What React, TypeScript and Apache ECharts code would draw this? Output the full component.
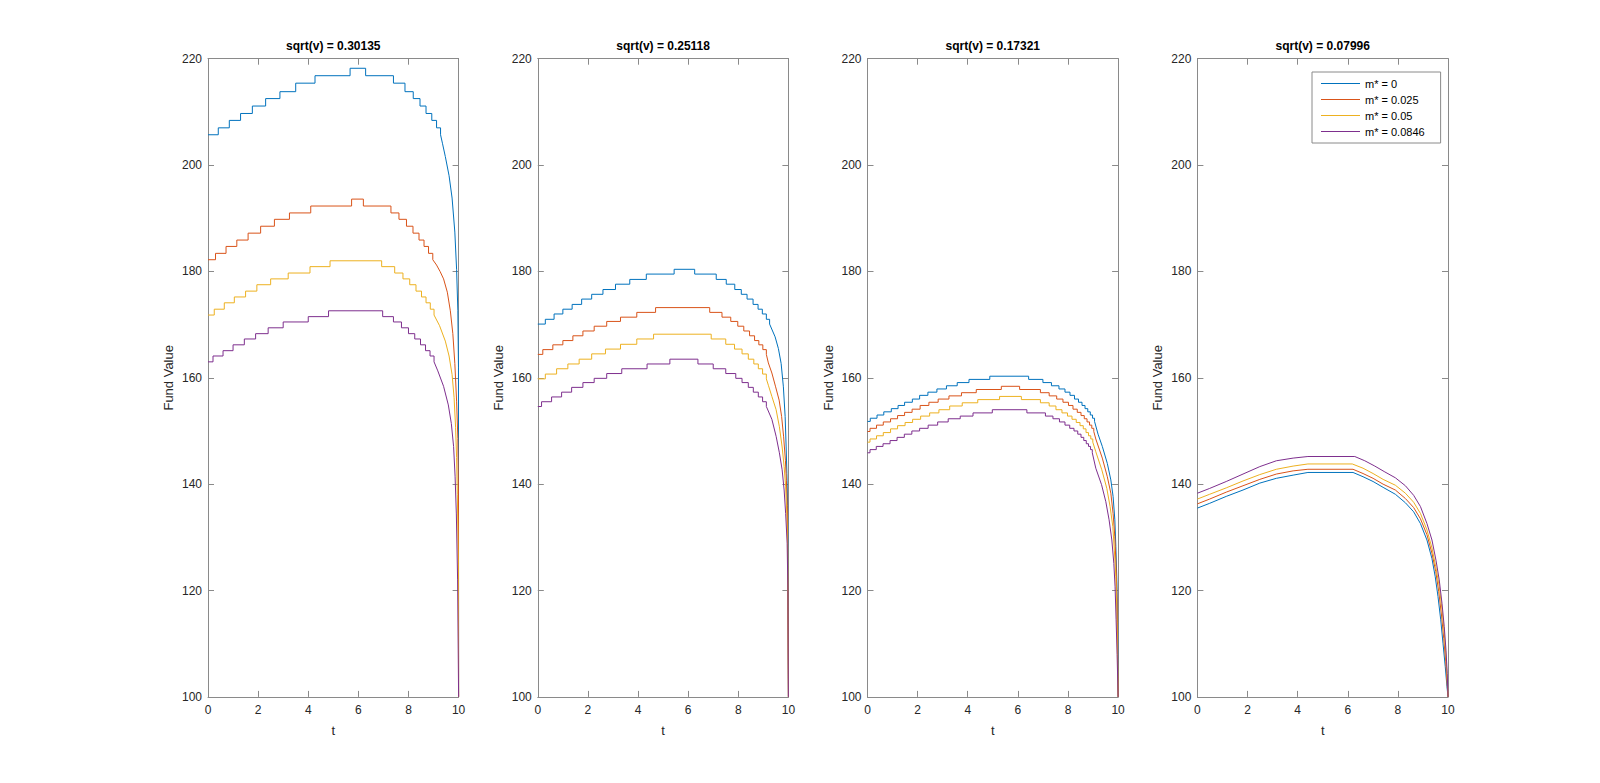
import React, { useEffect, useRef } from "react";
import * as echarts from "echarts";

type Pt = [number, number];

const TITLES = ["sqrt(v) = 0.30135", "sqrt(v) = 0.25118", "sqrt(v) = 0.17321", "sqrt(v) = 0.07996"];
const LEGEND_NAMES = ["m* = 0", "m* = 0.025", "m* = 0.05", "m* = 0.0846"];
const COLORS = ["#0072BD", "#D95319", "#EDB120", "#7E2F8E"];
const X_NAME = "t";
const Y_NAME = "Fund Value";

// ---- Panel 1 (sqrt(v) = 0.30135)
const P1_BLUE_STEPS: Pt[] = [[0,205.7],[0.41,207.0],[0.85,208.4],[1.30,209.7],[1.77,211.1],[2.30,212.5],[2.87,213.8],[3.50,215.4],[4.27,216.8],[5.67,218.2],[6.29,216.8],[7.40,215.4],[7.86,213.8],[8.19,212.5],[8.46,211.1],[8.70,209.7],[8.93,208.4],[9.12,207.0],[9.28,205.7]];
const P1_BLUE_TAIL: Pt[] = [[9.28,205.7],[9.36,204.0],[9.47,201.6],[9.62,198.0],[9.74,193.8],[9.85,187.4],[9.92,180.4],[9.97,172.6],[9.995,162],[10,100]];
const P1_ORANGE_STEPS: Pt[] = [[0,182.2],[0.3,183.4],[0.72,184.7],[1.15,185.9],[1.6,187.2],[2.1,188.5],[2.65,189.8],[3.25,191.0],[4.1,192.3],[5.73,193.6],[6.2,192.3],[7.3,191.0],[7.62,189.8],[7.92,188.5],[8.18,187.2],[8.42,185.9],[8.62,184.7],[8.8,183.4],[8.97,182.2]];
const P1_ORANGE_TAIL: Pt[] = [[8.97,182.2],[9.12,181.2],[9.26,180.0],[9.40,178.6],[9.55,176.1],[9.67,172.6],[9.77,168.3],[9.85,162.7],[9.92,155.6],[9.97,148.6],[9.995,138],[10,100]];
const P1_YELLOW_STEPS: Pt[] = [[0,171.8],[0.25,172.9],[0.65,174.1],[1.05,175.2],[1.5,176.3],[1.95,177.5],[2.5,178.6],[3.2,179.7],[4.07,180.9],[4.87,182.0],[6.93,180.9],[7.45,179.7],[7.78,178.6],[8.05,177.5],[8.3,176.3],[8.52,175.2],[8.7,174.1],[8.87,172.9],[9.02,171.8]];
const P1_YELLOW_TAIL: Pt[] = [[9.02,171.8],[9.24,169.8],[9.47,166.9],[9.62,164.1],[9.74,160.6],[9.82,156.3],[9.88,150.7],[9.92,145.0],[9.95,138.0],[9.99,125],[10,100]];
const P1_PURPLE_STEPS: Pt[] = [[0,163.0],[0.2,164.1],[0.6,165.1],[1.0,166.2],[1.45,167.3],[1.9,168.3],[2.4,169.4],[3.0,170.5],[4.0,171.5],[4.81,172.6],[6.97,171.5],[7.4,170.5],[7.72,169.4],[8.0,168.3],[8.25,167.3],[8.48,166.2],[8.68,165.1],[8.86,164.1],[9.02,163.0]];
const P1_PURPLE_TAIL: Pt[] = [[9.02,163.0],[9.17,161.3],[9.40,158.4],[9.59,154.9],[9.71,151.4],[9.80,147.1],[9.86,141.5],[9.91,134.4],[9.96,122],[10,100]];

// ---- Panel 2 (sqrt(v) = 0.25118)
const P2_BLUE_STEPS: Pt[] = [[0,170.1],[0.3,171.0],[0.65,172.0],[1.0,172.9],[1.37,173.8],[1.75,174.8],[2.15,175.7],[2.6,176.6],[3.1,177.6],[3.67,178.5],[4.33,179.5],[5.44,180.4],[6.26,179.5],[7.12,178.5],[7.52,177.6],[7.86,176.6],[8.12,175.7],[8.35,174.8],[8.59,173.8],[8.79,172.9],[8.96,172.0],[9.12,171.0],[9.25,170.1]];
const P2_BLUE_TAIL: Pt[] = [[9.25,170.1],[9.47,167.7],[9.60,165.5],[9.71,162.7],[9.80,158.3],[9.87,152.7],[9.91,147.0],[9.94,142.0],[9.97,136],[10,100]];
const P2_ORANGE_STEPS: Pt[] = [[0,164.4],[0.2,165.3],[0.6,166.2],[1.0,167.0],[1.4,167.9],[1.8,168.8],[2.25,169.7],[2.75,170.6],[3.3,171.4],[3.95,172.3],[4.70,173.2],[6.86,172.3],[7.35,171.4],[7.7,170.6],[7.98,169.7],[8.22,168.8],[8.45,167.9],[8.65,167.0],[8.82,166.2],[8.98,165.3],[9.12,164.4]];
const P2_ORANGE_TAIL: Pt[] = [[9.12,164.4],[9.2,162.8],[9.34,160.9],[9.49,158.3],[9.63,155.8],[9.73,152.7],[9.81,148.9],[9.88,144.5],[9.92,140.7],[9.96,135],[10,100]];
const P2_YELLOW_STEPS: Pt[] = [[0,159.8],[0.3,160.7],[0.75,161.7],[1.2,162.6],[1.65,163.5],[2.15,164.5],[2.7,165.4],[3.3,166.3],[3.95,167.3],[4.62,168.2],[6.92,167.3],[7.5,166.3],[7.85,165.4],[8.15,164.5],[8.4,163.5],[8.62,162.6],[8.8,161.7],[8.97,160.7],[9.12,159.8]];
const P2_YELLOW_TAIL: Pt[] = [[9.12,159.8],[9.2,158.6],[9.34,156.5],[9.51,154.0],[9.64,150.8],[9.75,147.0],[9.83,143.3],[9.89,139.5],[9.94,134],[9.97,128],[10,100]];
const P2_PURPLE_STEPS: Pt[] = [[0,154.6],[0.15,155.5],[0.55,156.4],[0.95,157.3],[1.35,158.2],[1.8,159.1],[2.25,159.9],[2.75,160.8],[3.35,161.7],[4.36,162.6],[5.27,163.5],[6.39,162.6],[7.0,161.7],[7.5,160.8],[7.9,159.9],[8.15,159.1],[8.4,158.2],[8.6,157.3],[8.8,156.4],[8.97,155.5],[9.12,154.6]];
const P2_PURPLE_TAIL: Pt[] = [[9.12,154.6],[9.34,152.2],[9.51,149.0],[9.64,145.9],[9.75,142.7],[9.83,138.9],[9.89,134.5],[9.95,128.9],[9.98,120],[10,100]];

// ---- Panel 3 (sqrt(v) = 0.17321)
const P3_BLUE_STEPS: Pt[] = [[0,151.8],[0.11,152.4],[0.38,153.0],[0.65,153.6],[0.95,154.2],[1.22,154.8],[1.48,155.4],[1.79,156.0],[2.08,156.7],[2.41,157.3],[2.77,157.9],[3.15,158.5],[3.58,159.1],[4.05,159.7],[4.88,160.3],[6.43,159.7],[7.0,159.1],[7.34,158.5],[7.64,157.9],[7.88,157.3],[8.08,156.7],[8.26,156.0],[8.42,155.4],[8.56,154.8],[8.68,154.2],[8.79,153.6],[8.89,153.0],[8.98,152.4],[9.06,151.8]];
const P3_BLUE_TAIL: Pt[] = [[9.06,151.8],[9.2,149.4],[9.37,147.1],[9.57,143.9],[9.71,140.8],[9.80,137.7],[9.87,133.3],[9.91,128.3],[9.95,122.0],[9.98,114],[10,100]];
const P3_ORANGE_STEPS: Pt[] = [[0,149.9],[0.1,150.5],[0.36,151.1],[0.63,151.7],[0.92,152.3],[1.2,152.9],[1.48,153.5],[1.78,154.1],[2.1,154.8],[2.45,155.4],[2.82,156.0],[3.25,156.6],[3.75,157.2],[4.34,157.8],[5.34,158.4],[6.07,157.8],[6.9,157.2],[7.25,156.6],[7.55,156.0],[7.8,155.4],[8.02,154.8],[8.2,154.1],[8.37,153.5],[8.52,152.9],[8.65,152.3],[8.76,151.7],[8.86,151.1],[8.95,150.5],[9.03,149.9]];
const P3_ORANGE_TAIL: Pt[] = [[9.03,149.9],[9.11,148.5],[9.37,144.9],[9.57,141.4],[9.71,138.3],[9.80,134.5],[9.87,130.1],[9.92,124.5],[9.96,118],[10,100]];
const P3_YELLOW_STEPS: Pt[] = [[0,147.9],[0.1,148.5],[0.36,149.1],[0.63,149.7],[0.92,150.4],[1.2,151.0],[1.5,151.6],[1.8,152.2],[2.12,152.8],[2.48,153.4],[2.85,154.0],[3.28,154.7],[3.78,155.3],[4.4,155.9],[5.27,156.5],[6.14,155.9],[6.9,155.3],[7.25,154.7],[7.52,154.0],[7.76,153.4],[7.98,152.8],[8.16,152.2],[8.33,151.6],[8.48,151.0],[8.61,150.4],[8.72,149.7],[8.82,149.1],[8.91,148.5],[8.99,147.9]];
const P3_YELLOW_TAIL: Pt[] = [[8.99,147.9],[9.11,146.1],[9.35,142.7],[9.55,139.2],[9.68,135.8],[9.79,132.0],[9.85,127.6],[9.91,122.6],[9.95,116],[10,100]];
const P3_PURPLE_STEPS: Pt[] = [[0,145.9],[0.1,146.5],[0.35,147.1],[0.62,147.6],[0.9,148.2],[1.18,148.8],[1.47,149.4],[1.77,150.0],[2.08,150.5],[2.42,151.1],[2.8,151.7],[3.22,152.3],[3.7,152.8],[4.21,153.4],[4.98,154.0],[6.36,153.4],[7.1,152.8],[7.4,152.3],[7.66,151.7],[7.88,151.1],[8.07,150.5],[8.24,150.0],[8.39,149.4],[8.52,148.8],[8.63,148.2],[8.73,147.6],[8.82,147.1],[8.9,146.5],[8.97,145.9]];
const P3_PURPLE_TAIL: Pt[] = [[8.97,145.9],[9.11,143.0],[9.34,139.9],[9.51,136.7],[9.64,133.3],[9.75,129.5],[9.83,125.1],[9.88,120.7],[9.92,114.5],[9.96,108],[10,100]];

// ---- Panel 4 (sqrt(v) = 0.07996): steps are ~1px, drawn as a line through read points
const P4_BLUE: Pt[] = [[0,135.5],[0.49,136.4],[1.15,137.7],[1.82,138.9],[2.49,140.2],[3.15,141.1],[3.82,141.7],[4.41,142.2],[6.21,142.2],[6.61,141.4],[7.01,140.5],[7.41,139.4],[7.9,138.1],[8.30,136.5],[8.63,134.8],[8.90,132.6],[9.16,129.5],[9.36,126.0],[9.49,122.6],[9.60,118.9],[9.71,114.5],[9.80,110.1],[9.89,105.7],[9.96,101.9],[10,100]];
const P4_ORANGE: Pt[] = [[0,136.3],[0.49,137.2],[1.15,138.5],[1.82,139.7],[2.49,140.9],[3.15,141.9],[3.82,142.5],[4.41,142.8],[6.21,142.8],[6.61,142.0],[7.01,141.1],[7.41,140.0],[7.9,138.9],[8.30,137.3],[8.63,135.6],[8.90,133.5],[9.16,130.5],[9.36,127.0],[9.51,123.6],[9.63,119.8],[9.74,115.4],[9.83,111.0],[9.91,106.6],[9.97,102.2],[10,100]];
const P4_YELLOW: Pt[] = [[0,137.2],[0.49,138.1],[1.15,139.3],[1.82,140.6],[2.49,141.8],[3.15,142.8],[3.82,143.4],[4.41,143.8],[6.18,143.8],[6.61,143.0],[7.01,142.0],[7.41,140.9],[7.9,139.8],[8.30,138.3],[8.63,136.6],[8.90,134.5],[9.16,131.4],[9.36,128.0],[9.51,124.5],[9.65,120.8],[9.76,116.4],[9.85,112.0],[9.92,107.6],[9.97,103.2],[10,100]];
const P4_PURPLE: Pt[] = [[0,138.3],[0.49,139.2],[1.15,140.5],[1.82,141.9],[2.49,143.3],[3.15,144.4],[3.82,144.9],[4.41,145.2],[6.28,145.2],[6.68,144.4],[7.08,143.4],[7.48,142.3],[7.9,141.2],[8.30,139.7],[8.63,137.9],[8.90,135.8],[9.16,132.6],[9.36,129.5],[9.52,125.7],[9.65,122.0],[9.76,117.6],[9.85,113.2],[9.92,108.8],[9.97,104.4],[10,100]];

const X_MIN = 0, X_MAX = 10, X_INTERVAL = 2;
const Y_MIN = 100, Y_MAX = 220, Y_INTERVAL = 20;

const PANELS: { steps: Pt[][]; lines: Pt[][] }[] = [
  { steps: [P1_BLUE_STEPS, P1_ORANGE_STEPS, P1_YELLOW_STEPS, P1_PURPLE_STEPS], lines: [P1_BLUE_TAIL, P1_ORANGE_TAIL, P1_YELLOW_TAIL, P1_PURPLE_TAIL] },
  { steps: [P2_BLUE_STEPS, P2_ORANGE_STEPS, P2_YELLOW_STEPS, P2_PURPLE_STEPS], lines: [P2_BLUE_TAIL, P2_ORANGE_TAIL, P2_YELLOW_TAIL, P2_PURPLE_TAIL] },
  { steps: [P3_BLUE_STEPS, P3_ORANGE_STEPS, P3_YELLOW_STEPS, P3_PURPLE_STEPS], lines: [P3_BLUE_TAIL, P3_ORANGE_TAIL, P3_YELLOW_TAIL, P3_PURPLE_TAIL] },
  { steps: [[], [], [], []], lines: [P4_BLUE, P4_ORANGE, P4_YELLOW, P4_PURPLE] },
];

const FONT = "'Liberation Sans', Arial, Helvetica, sans-serif";
const AXIS_COLOR = "#8a8a8a";
const TEXT_COLOR = "#262626";
const GRID_LEFTS = [208, 537.8, 867.5, 1197.4];
const GRID_TOP = 58.7;
const GRID_W = 250.6;
const GRID_H = 638.2;

function buildOption() {
  const grid: any[] = [];
  const xAxis: any[] = [];
  const yAxis: any[] = [];
  const series: any[] = [];
  const graphic: any[] = [];

  PANELS.forEach((p, i) => {
    grid.push({ left: GRID_LEFTS[i], top: GRID_TOP, width: GRID_W, height: GRID_H, containLabel: false });
    const tick = { show: true, inside: true, length: 6, lineStyle: { color: AXIS_COLOR, width: 1 } };
    const line = { show: true, onZero: false, lineStyle: { color: AXIS_COLOR, width: 1 } };
    xAxis.push({
      type: "value", gridIndex: i, position: "bottom", min: X_MIN, max: X_MAX, interval: X_INTERVAL,
      axisLine: line, axisTick: tick, splitLine: { show: false },
      axisLabel: { color: TEXT_COLOR, fontSize: 12, fontFamily: FONT, margin: 7 },
      name: X_NAME, nameLocation: "middle", nameGap: 27,
      nameTextStyle: { color: TEXT_COLOR, fontSize: 13, fontFamily: FONT },
    });
    xAxis.push({
      type: "value", gridIndex: i, position: "top", min: X_MIN, max: X_MAX, interval: X_INTERVAL,
      axisLine: line, axisTick: tick, splitLine: { show: false }, axisLabel: { show: false },
    });
    yAxis.push({
      type: "value", gridIndex: i, position: "left", min: Y_MIN, max: Y_MAX, interval: Y_INTERVAL,
      axisLine: line, axisTick: tick, splitLine: { show: false },
      axisLabel: { color: TEXT_COLOR, fontSize: 12, fontFamily: FONT, margin: 6 },
      name: Y_NAME, nameLocation: "middle", nameGap: 33,
      nameTextStyle: { color: TEXT_COLOR, fontSize: 13, fontFamily: FONT },
    });
    yAxis.push({
      type: "value", gridIndex: i, position: "right", min: Y_MIN, max: Y_MAX, interval: Y_INTERVAL,
      axisLine: line, axisTick: tick, splitLine: { show: false }, axisLabel: { show: false },
    });

    for (let c = 0; c < 4; c++) {
      const base = {
        type: "line", name: LEGEND_NAMES[c], xAxisIndex: 2 * i, yAxisIndex: 2 * i,
        symbol: "none", showSymbol: false, color: COLORS[c], silent: true,
        lineStyle: { color: COLORS[c], width: 1 }, itemStyle: { color: COLORS[c] },
        z: 2 + c,
      };
      if (p.steps[c].length) series.push({ ...base, step: "end", data: p.steps[c] });
      series.push({ ...base, data: p.lines[c] });
    }

    graphic.push({
      type: "text", x: GRID_LEFTS[i] + GRID_W / 2, y: 46,
      style: { text: TITLES[i], textAlign: "center", textVerticalAlign: "middle", fill: "#000", font: `bold 12px ${FONT}` },
    });
  });

  return {
    animation: false,
    backgroundColor: "#ffffff",
    grid, xAxis, yAxis, series, graphic,
    legend: {
      data: LEGEND_NAMES, orient: "vertical", left: 1312, top: 72,
      icon: "rect", itemWidth: 39, itemHeight: 1, itemGap: 3,
      padding: [5, 16, 5, 9], backgroundColor: "#ffffff", borderColor: "#8a8a8a", borderWidth: 1,
      textStyle: { color: "#000", fontSize: 11, fontFamily: FONT, lineHeight: 13 },
      selectedMode: false,
    },
  };
}

export default function App() {
  const ref = useRef<HTMLDivElement>(null);
  useEffect(() => {
    if (!ref.current) return;
    const chart = echarts.init(ref.current, undefined, { renderer: "svg" });
    chart.setOption(buildOption() as any);
    return () => chart.dispose();
  }, []);
  return <div ref={ref} style={{ position: "absolute", left: 0, top: 0, width: 1600, height: 783, background: "#fff" }} />;
}
